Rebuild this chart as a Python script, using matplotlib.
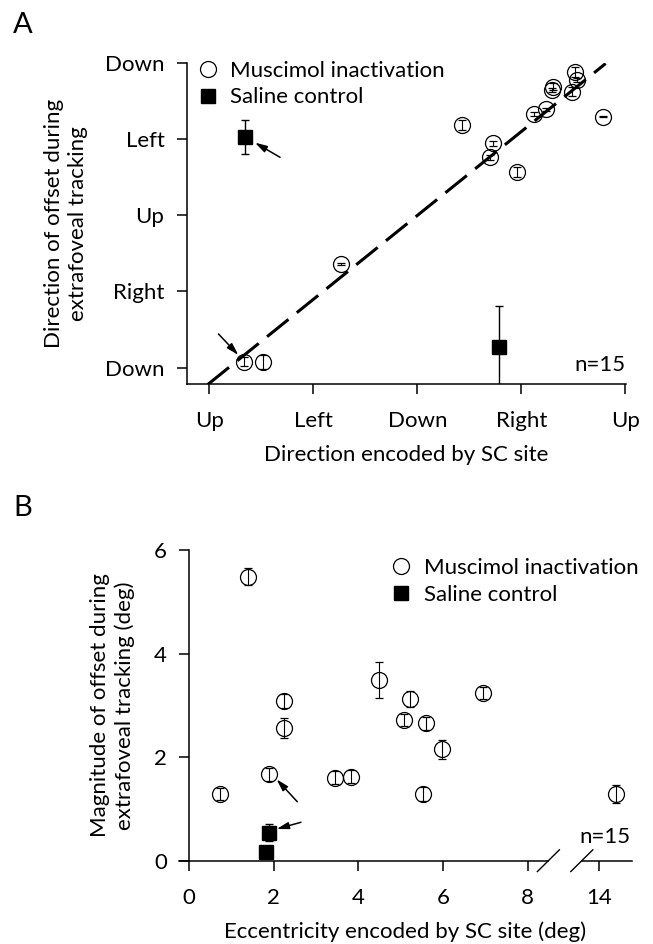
import numpy as np
import matplotlib.pyplot as plt
from matplotlib.lines import Line2D

plt.rcParams['font.family'] = ['Lato', 'DejaVu Sans']
plt.rcParams['font.size'] = 16

# -------------------
# PANEL A DATA (direction, deg; Up=0, Left=90, Down=180, Right=270)
# -------------------
dir_sc = [316.5, 318.0, 297.7, 296.3, 313.6, 291.4, 281.0, 340.5,
          218.4, 245.3, 242.9, 266.0, 30.0, 46.2, 113.8]
dir_offset = [349.4, 339.6, 331.7, 327.8, 325.8, 305.0, 299.4, 296.3,
              286.5, 264.9, 248.3, 231.3, 7.1, 6.4, 122.4]
dir_err = [6, 2, 4, 2, 5, 2, 2, 1, 6, 3, 3, 6, 5, 8, 1]

sal_dir_sc = [30.5, 251.0]
sal_dir_offset = [272.6, 24.1]
sal_dir_err = [20, 49]

fit_x = [-1.5, 343]
fit_y = [-20, 359]

dir_ticks = [0, 90, 180, 270, 360]
x_dir_labels = ['Up', 'Left', 'Down', 'Right', 'Up']
y_dir_labels = ['Down', 'Right', 'Up', 'Left', 'Down']

# -------------------
# PANEL B DATA (deg)
# -------------------
ecc_sc = [1.385, 2.243, 2.243, 1.878, 0.726, 3.454, 3.818, 4.489,
          5.208, 5.080, 5.591, 5.523, 5.967, 6.95, 14.4]
mag = [5.485, 3.084, 2.557, 1.668, 1.288, 1.603, 1.622, 3.490,
       3.123, 2.717, 2.653, 1.288, 2.151, 3.233, 1.288]
mag_err = [0.17, 0.13, 0.19, 0.13, 0.12, 0.13, 0.12, 0.34,
           0.15, 0.12, 0.12, 0.13, 0.18, 0.12, 0.18]

sal_ecc = [1.806, 1.884]
sal_mag = [0.174, 0.541]
sal_mag_err = [0.0, 0.17]

ecc_ticks = [0, 2, 4, 6, 8, 14]
mag_ticks = [0, 2, 4, 6]

# axis break: everything above 8 deg is pulled left
BREAK_SHIFT = 4.31


def squeeze(x):
    x = np.asarray(x, dtype=float)
    return np.where(x > 8, x - BREAK_SHIFT, x)


circ = dict(fmt='o', ms=11.5, mfc='none', mec='black', mew=0.9,
            ecolor='black', elinewidth=0.8, capsize=3, capthick=0.8)
sq = dict(fmt='s', ms=10, mfc='black', mec='black',
          ecolor='black', elinewidth=1.0, capsize=3, capthick=1.0)
arrow = dict(arrowstyle='-|>,head_length=0.45,head_width=0.13', lw=1.1,
             color='black', shrinkA=0, shrinkB=0)

fig = plt.figure(figsize=(6.53, 9.44), dpi=100)

# -------------------
# PANEL A
# -------------------
ax = fig.add_axes([0.2859, 0.5929, 0.6727, 0.3407])
ax.plot(fit_x, fit_y, color='black', lw=2.2, dashes=(9, 3.5))
ax.errorbar(dir_sc, dir_offset, yerr=dir_err, **circ)
ax.errorbar(sal_dir_sc, sal_dir_offset, yerr=sal_dir_err, **sq)

ax.annotate('', xy=(39.5, 265.6), xytext=(61.2, 248.3), arrowprops=arrow)
ax.annotate('', xy=(25.1, 15.0), xytext=(7.9, 39.8), arrowprops=arrow)
ax.text(359.8, -3.5, 'n=15', ha='right', va='baseline')

ax.set_xlim(-19.6, 360.6)
ax.set_ylim(-19.6, 360)
ax.set_xticks(dir_ticks)
ax.set_xticklabels(x_dir_labels)
ax.set_yticks(dir_ticks)
ax.set_yticklabels(y_dir_labels)
ax.spines['top'].set_visible(False)
ax.spines['right'].set_visible(False)
for s in ['left', 'bottom']:
    ax.spines[s].set_linewidth(1.1)
ax.tick_params(axis='both', length=7, width=1.1)
ax.tick_params(axis='x', pad=12)
ax.tick_params(axis='y', pad=9)
ax.set_xlabel('Direction encoded by SC site', labelpad=10)
ax.set_ylabel('Direction of offset during\nextrafoveal tracking', labelpad=12, linespacing=1.25)

handles = [Line2D([], [], ls='none', marker='o', ms=11.5, mfc='none', mec='black', mew=0.9),
           Line2D([], [], ls='none', marker='s', ms=10, mfc='black', mec='black')]
ax.legend(handles, ['Muscimol inactivation', 'Saline control'], loc='upper left',
          bbox_to_anchor=(-0.027, 1.068), frameon=False, handletextpad=0.4,
          labelspacing=0.3, handlelength=1.2)

fig.text(0.02, 0.973, 'A', fontsize=21, va='center')

# -------------------
# PANEL B
# -------------------
bx = fig.add_axes([179.3 / 653, 1 - 860.7 / 944, 452.4 / 653, 310.7 / 944])
bx.errorbar(squeeze(ecc_sc), mag, yerr=mag_err, **circ)
bx.errorbar(squeeze(sal_ecc), sal_mag, yerr=sal_mag_err, **sq)

bx.annotate('', xy=(2.064, 1.572), xytext=(2.553, 1.139), arrowprops=arrow)
bx.annotate('', xy=(2.066, 0.612), xytext=(2.641, 0.742), arrowprops=arrow)
bx.text(10.42, 0.35, 'n=15', ha='right', va='baseline')

bx.set_xlim(-0.236, 10.46)
bx.set_ylim(0, 6)
bx.set_xticks(squeeze(ecc_ticks))
bx.set_xticklabels([str(t) for t in ecc_ticks])
bx.set_yticks(mag_ticks)
bx.spines['top'].set_visible(False)
bx.spines['right'].set_visible(False)
bx.spines['left'].set_position(('data', 0))
bx.spines['bottom'].set_bounds(-0.236, 8.49)
for s in ['left', 'bottom']:
    bx.spines[s].set_linewidth(1.1)
# right piece of the broken x axis and the two break marks
bx.plot([9.28, 10.46], [0, 0], color='black', lw=1.1, clip_on=False)
for xb in [8.49, 9.28]:
    bx.plot([xb - 0.26, xb + 0.26], [-0.21, 0.21], color='black', lw=1.0, clip_on=False)

bx.tick_params(axis='both', length=7, width=1.1)
bx.tick_params(axis='x', pad=13)
bx.tick_params(axis='y', pad=9)
bx.set_xlabel('Eccentricity encoded by SC site (deg)', labelpad=9)
bx.set_ylabel('Magnitude of offset during\nextrafoveal tracking (deg)', labelpad=14, linespacing=1.25)

bx.legend(handles, ['Muscimol inactivation', 'Saline control'], loc='upper left',
          bbox_to_anchor=(0.417, 1.038), frameon=False, handletextpad=0.4,
          labelspacing=0.3, handlelength=1.2)

fig.text(0.02, 0.462, 'B', fontsize=21, va='center')

fig.savefig('out.png', dpi=100)
